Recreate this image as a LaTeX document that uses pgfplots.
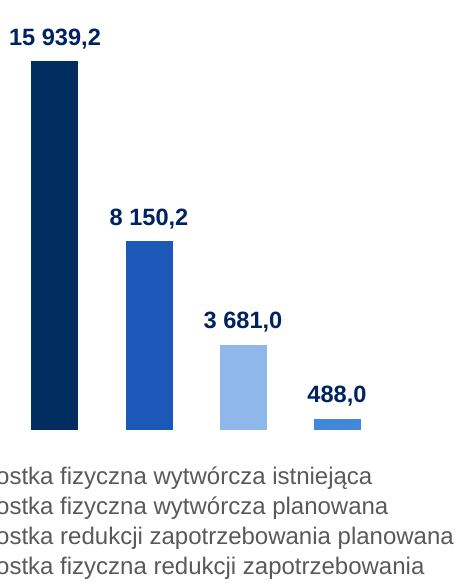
\documentclass[border=0pt]{standalone}
\usepackage{fontspec}
\setmainfont{Liberation Sans}
\usepackage{pgfplots}
\pgfplotsset{compat=1.18}

\definecolor{navy}{RGB}{1,45,96}
\definecolor{midblue}{RGB}{27,88,184}
\definecolor{lightblue}{RGB}{143,183,233}
\definecolor{skyblue}{RGB}{66,135,219}
\definecolor{lbl}{RGB}{0,35,96}
\definecolor{legtxt}{RGB}{89,89,89}

\begin{document}
\begin{tikzpicture}
  \begin{axis}[
      scale only axis,
      width=455bp, height=588bp,
      hide axis,
      xmin=-0.585, xmax=4.255,
      ymin=-6825, ymax=18575,
      ybar, bar width=47bp, bar shift=0pt,
      point meta=explicit symbolic,
      nodes near coords,
      every node near coord/.append style={anchor=base, inner sep=0pt,
        yshift=16bp, font=\fontsize{23.6bp}{28bp}\selectfont\bfseries, text=lbl},
      legend image code/.code={\fill[#1] (0bp,-3bp) rectangle (14bp,11bp);},
      legend style={at={(rel axis cs:-0.171,0.2041)}, anchor=north west,
        draw=none, fill=none, inner sep=0pt, outer sep=0pt,
        font=\fontsize{24bp}{28bp}\selectfont, text=legtxt,
        nodes={inner sep=0pt, text height=17bp, text depth=5bp},
        /tikz/column sep=8bp, /tikz/row sep=8bp},
      legend cell align=left,
    ]
    \addplot[fill=navy, draw=none] coordinates {(0,15939.2) [15 939,2]};
    \addlegendentry{Jednostka fizyczna wytwórcza istniejąca}
    \addplot[fill=midblue, draw=none] coordinates {(1,8150.2) [8 150,2]};
    \addlegendentry{Jednostka fizyczna wytwórcza planowana}
    \addplot[fill=lightblue, draw=none] coordinates {(2,3681.0) [3 681,0]};
    \addlegendentry{Jednostka redukcji zapotrzebowania planowana}
    \addplot[fill=skyblue, draw=none] coordinates {(3,488.0) [488,0]};
    \addlegendentry{Jednostka fizyczna redukcji zapotrzebowania}
    \coordinate (bl) at (rel axis cs:0,0);
    \coordinate (tr) at (rel axis cs:1,1);
  \end{axis}
  \pgfresetboundingbox
  \useasboundingbox (bl) rectangle (tr);
\end{tikzpicture}
\end{document}
